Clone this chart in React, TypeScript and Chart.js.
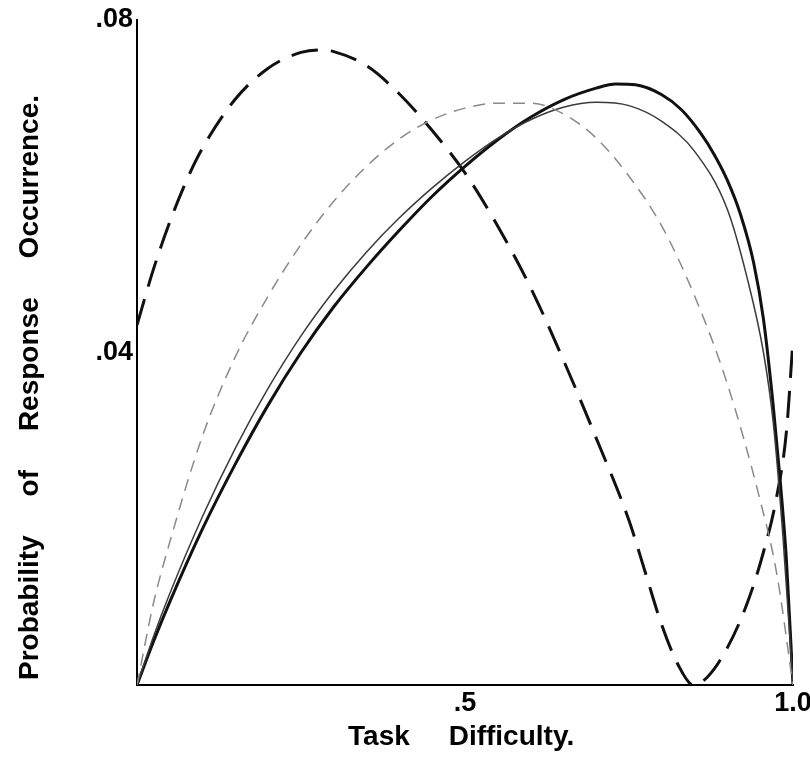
import React, { useEffect, useRef } from 'react';
import { Chart, registerables } from 'chart.js';

Chart.register(...registerables);

// Tick values
const xTickValues = [0.5, 1.0];
const yTickValues = [0.04, 0.08];

// Long-dash heavy curve
const longDashX = [0, 0.025, 0.05, 0.075, 0.1, 0.15, 0.2, 0.25, 0.28, 0.3, 0.35, 0.4, 0.45, 0.5, 0.55, 0.6, 0.65, 0.7, 0.75, 0.775, 0.8, 0.825, 0.848, 0.87, 0.9, 0.93, 0.955, 0.975, 0.99, 1.0];
const longDashY = [0.0433, 0.05, 0.0557, 0.0606, 0.0646, 0.0705, 0.0742, 0.0761, 0.0764, 0.0762, 0.0745, 0.0711, 0.0667, 0.0616, 0.0552, 0.0478, 0.0391, 0.0297, 0.0198, 0.0135, 0.0072, 0.0024, 0.0, 0.001, 0.0045, 0.0098, 0.016, 0.0226, 0.0305, 0.0415];

// Short-dash grey curve
const shortDashX = [0, 0.025, 0.05, 0.1, 0.15, 0.2, 0.25, 0.3, 0.35, 0.4, 0.45, 0.5, 0.55, 0.6, 0.65, 0.7, 0.75, 0.8, 0.85, 0.9, 0.95, 0.975, 1.0];
const shortDashY = [0, 0.0098, 0.0172, 0.03, 0.0395, 0.0468, 0.053, 0.0582, 0.0624, 0.0657, 0.068, 0.0694, 0.07, 0.07, 0.0687, 0.0658, 0.0612, 0.0552, 0.0468, 0.0362, 0.0222, 0.0135, 0.0];

// Thin solid curve
const thinX = [0, 0.025, 0.05, 0.1, 0.15, 0.2, 0.25, 0.3, 0.35, 0.4, 0.45, 0.5, 0.55, 0.6, 0.65, 0.7, 0.75, 0.8, 0.85, 0.9, 0.93, 0.955, 0.97, 0.985, 1.0];
const thinY = [0, 0.0058, 0.011, 0.0203, 0.0285, 0.0357, 0.042, 0.0474, 0.0521, 0.0562, 0.0598, 0.063, 0.0658, 0.068, 0.0695, 0.0701, 0.0697, 0.0678, 0.0642, 0.0572, 0.049, 0.04, 0.0315, 0.0175, 0.0];

// Thick solid curve
const thickX = [0, 0.025, 0.05, 0.1, 0.15, 0.2, 0.25, 0.3, 0.35, 0.4, 0.45, 0.5, 0.55, 0.6, 0.65, 0.7, 0.73, 0.76, 0.8, 0.83, 0.86, 0.88, 0.9, 0.92, 0.94, 0.955, 0.97, 0.98, 0.99, 1.0];
const thickY = [0, 0.0052, 0.01, 0.0188, 0.0266, 0.0337, 0.04, 0.0455, 0.0503, 0.0547, 0.0588, 0.0624, 0.0656, 0.0683, 0.0704, 0.0718, 0.0723, 0.0722, 0.071, 0.0692, 0.0663, 0.0638, 0.0607, 0.0566, 0.0508, 0.044, 0.0335, 0.025, 0.015, 0.0];

const FONT = "'Liberation Sans', Arial, sans-serif";
const NB = '\u00a0';
const gap = NB.repeat(5);
const xTitle = 'Task' + gap + 'Difficulty.' + NB;
const yTitle = 'Probability' + gap + 'of' + gap + 'Response' + gap + 'Occurrence.' + NB.repeat(9);

const pts = (xs: number[], ys: number[]) => xs.map((x, i) => ({ x, y: ys[i] }));

export default function App() {
  const ref = useRef<HTMLCanvasElement | null>(null);

  useEffect(() => {
    document.body.style.margin = '0';
    const canvas = ref.current;
    if (!canvas) return;
    const chart = new Chart(canvas, {
      type: 'line',
      data: {
        datasets: [
          {
            data: pts(shortDashX, shortDashY),
            borderColor: '#8a8a8a',
            borderWidth: 1.5,
            borderDash: [12, 8],
            pointRadius: 0,
            fill: false,
            cubicInterpolationMode: 'monotone',
          },
          {
            data: pts(thinX, thinY),
            borderColor: '#3a3a3a',
            borderWidth: 1.5,
            pointRadius: 0,
            fill: false,
            cubicInterpolationMode: 'monotone',
          },
          {
            data: pts(thickX, thickY),
            borderColor: '#111',
            borderWidth: 3,
            pointRadius: 0,
            fill: false,
            cubicInterpolationMode: 'monotone',
          },
          {
            data: pts(longDashX, longDashY),
            borderColor: '#111',
            borderWidth: 3,
            borderDash: [27, 13],
            pointRadius: 0,
            fill: false,
            cubicInterpolationMode: 'monotone',
          },
        ],
      },
      options: {
        responsive: false,
        animation: false,
        devicePixelRatio: 1,
        layout: { padding: { top: 20, right: 17, bottom: 0, left: 0 } },
        plugins: { legend: { display: false }, tooltip: { enabled: false } },
        scales: {
          x: {
            type: 'linear',
            min: 0,
            max: 1,
            afterBuildTicks: (s: any) => { s.ticks = xTickValues.map((v) => ({ value: v })); },
            afterFit: (s: any) => { s.height = 72; s.paddingLeft = 0; s.paddingRight = 0; },
            ticks: {
              autoSkip: false,
              maxRotation: 0,
              padding: 2,
              color: '#000',
              font: { family: FONT, size: 27, weight: 'bold' },
              callback: (v: any) => Number(v).toFixed(1).replace(/^0/, ''),
            },
            grid: { display: false, drawTicks: false },
            border: { display: true, color: '#000', width: 2 },
            title: {
              display: true,
              text: xTitle,
              color: '#000',
              font: { family: FONT, size: 28, weight: 'bold' },
              padding: { top: 0, bottom: 3 },
            },
          },
          y: {
            type: 'linear',
            min: 0,
            max: 0.08,
            afterBuildTicks: (s: any) => { s.ticks = yTickValues.map((v) => ({ value: v })); },
            afterFit: (s: any) => { s.width = 137; s.paddingTop = 0; s.paddingBottom = 0; },
            ticks: {
              autoSkip: false,
              padding: 4,
              color: '#000',
              font: { family: FONT, size: 27, weight: 'bold' },
              callback: (v: any) => Number(v).toFixed(2).replace(/^0/, ''),
            },
            grid: { display: false, drawTicks: false },
            border: { display: true, color: '#000', width: 2 },
            title: {
              display: true,
              text: yTitle,
              color: '#000',
              font: { family: FONT, size: 28, weight: 'bold' },
              padding: { top: 13, bottom: 0 },
            },
          },
        },
      } as any,
    });
    return () => chart.destroy();
  }, []);

  return (
    <div style={{ position: 'fixed', left: 0, top: 0, width: 810, height: 757, background: '#fff' }}>
      <canvas ref={ref} width={810} height={757} style={{ width: 810, height: 757, display: 'block' }} />
    </div>
  );
}
